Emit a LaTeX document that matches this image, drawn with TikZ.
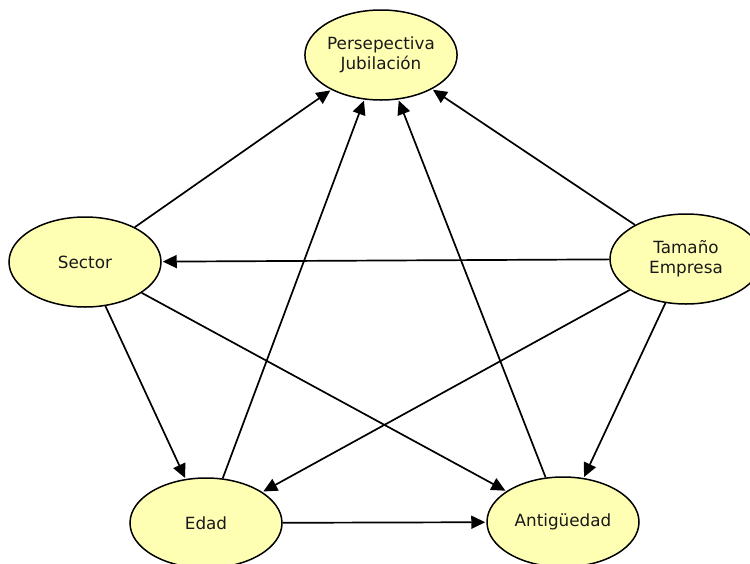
\documentclass[tikz,border=0pt]{standalone}
\usepackage{fontspec}
\setmainfont{DejaVu Sans}
\usetikzlibrary{arrows.meta,shapes.geometric}
\definecolor{nodefill}{RGB}{255,255,180}
\definecolor{labeltext}{RGB}{25,25,25}
\begin{document}
\begin{tikzpicture}[x=1pt,y=-1pt,
  concept/.style={ellipse, draw=black, line width=1.5pt, fill=nodefill,
    minimum width=152pt, minimum height=90pt, inner sep=0pt, align=center,
    font=\fontsize{16.8}{20}\selectfont, text=labeltext},
  link/.style={line width=1.7pt, shorten >=1pt,
    -{Triangle[length=14pt,width=13pt]}}]
\useasboundingbox (0,0) rectangle (750,563);

% factors
\node[concept] (pj)  at (381,55)  {Persepectiva\\Jubilación};
\node[concept] (sec) at (85,262)  {Sector};
\node[concept] (tam) at (686,259) {Tamaño\\Empresa};
\node[concept] (eda) at (206,523) {Edad};
\node[concept] (ant) at (563,522) {Antigüedad};

% influences
\draw[link] (sec) -- (pj);
\draw[link] (eda) -- (pj);
\draw[link] (ant) -- (pj);
\draw[link] (tam) -- (pj);
\draw[link] (tam) -- (sec);
\draw[link] (tam) -- (eda);
\draw[link] (tam) -- (ant);
\draw[link] (sec) -- (eda);
\draw[link] (sec) -- (ant);
\draw[link] (eda) -- (ant);
\end{tikzpicture}
\end{document}
